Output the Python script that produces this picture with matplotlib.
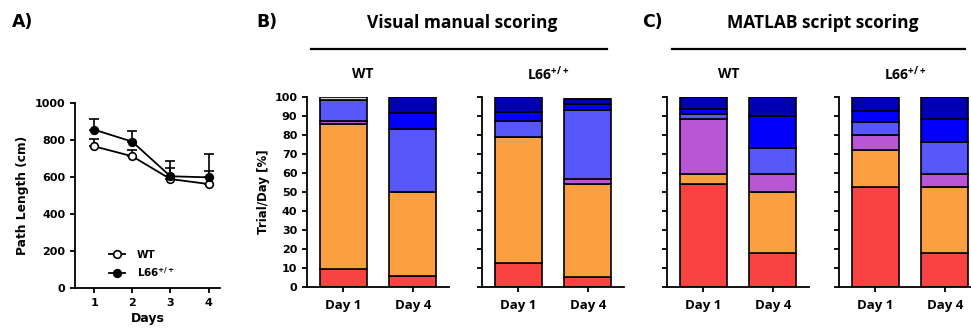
import matplotlib
matplotlib.use('Agg')
import matplotlib.pyplot as plt
from matplotlib.lines import Line2D
import numpy as np

W = 971
H = 331

# panel A: path length per day (mean, upper error)
days = [1, 2, 3, 4]
wt_mean = [766, 712, 589, 562]
wt_err = [41, 35, 60, 68]
l66_mean = [856, 791, 604, 598]
l66_err = [59, 59, 81, 128]

# panels B/C: stacked percentages, segments bottom->top
day_labels = ['Day 1', 'Day 4']
seg_colors = ['#F94343', '#FBA040', '#B956D6', '#5757FB', '#0000FB', '#0000B2', '#D4D4D4']
visual_wt = [[9.6, 76.4, 1.4, 11.0, 0.0, 0.0, 1.6],
             [5.6, 44.4, 0.0, 33.0, 8.6, 8.4, 0.0]]
visual_l66 = [[12.6, 66.5, 0.0, 8.3, 4.5, 8.1, 0.0],
              [5.3, 49.0, 2.7, 35.9, 3.4, 2.8, 0.0]]
matlab_wt = [[54.0, 5.4, 29.0, 2.8, 2.6, 6.2, 0.0],
             [18.0, 31.8, 9.6, 14.0, 16.5, 10.1, 0.0]]
matlab_l66 = [[52.6, 19.3, 8.1, 6.8, 5.8, 7.4, 0.0],
              [18.0, 34.6, 6.7, 16.9, 12.3, 11.5, 0.0]]

plt.rcParams['mathtext.default'] = 'regular'
SANS = 'DejaVu Sans'
CAL = 'Open Sans'

def px(l, t, r, b):
    return [l / W, 1 - b / H, (r - l) / W, (b - t) / H]

def style_axes(ax):
    for s in ['top', 'right']:
        ax.spines[s].set_visible(False)
    for s in ['left', 'bottom']:
        ax.spines[s].set_linewidth(1.3)
    ax.tick_params(width=1.3, length=3.5, direction='out')

fig = plt.figure(figsize=(W / 100, H / 100), dpi=100)

# ---- panel A
axA = fig.add_axes(px(75, 103, 220, 288))
style_axes(axA)
axA.errorbar(days, wt_mean, yerr=[np.zeros(4), wt_err], color='black', lw=1.3,
             marker='o', ms=5.5, mfc='white', mec='black', mew=1.2,
             capsize=3.5, capthick=1.2, elinewidth=1.2, zorder=3)
axA.errorbar(days, l66_mean, yerr=[np.zeros(4), l66_err], color='black', lw=1.3,
             marker='o', ms=5.5, mfc='black', mec='black', mew=1.2,
             capsize=3.5, capthick=1.2, elinewidth=1.2, zorder=4)
axA.set_xlim(0.5, 4.3)
axA.set_ylim(0, 1000)
axA.set_yticks([0, 200, 400, 600, 800, 1000])
axA.set_xticks(days)
for lab in axA.get_xticklabels() + axA.get_yticklabels():
    lab.set_fontfamily(SANS)
    lab.set_fontweight('bold')
    lab.set_fontsize(8)
axA.set_ylabel('Path Length (cm)', fontfamily=SANS, fontweight='bold', fontsize=8.8, labelpad=4)
axA.set_xlabel('Days', fontfamily=SANS, fontweight='bold', fontsize=9, labelpad=3)
handles = [Line2D([], [], color='black', lw=1.3, marker='o', ms=5.5, mfc='white', mec='black', mew=1.2),
           Line2D([], [], color='black', lw=1.3, marker='o', ms=5.5, mfc='black', mec='black', mew=1.2)]
axA.legend(handles, ['WT', 'L66$^{+/+}$'], loc='upper left', bbox_to_anchor=(0.234, 0.205),
           frameon=False, borderpad=0, borderaxespad=0,
           handlelength=1.5, handletextpad=1.2, labelspacing=0.45,
           prop={'family': SANS, 'weight': 'bold', 'size': 7.5})

# ---- panels B and C
def stacked(ax, data, show_labels):
    style_axes(ax)
    x = np.arange(len(day_labels))
    for i, col in enumerate(seg_colors):
        vals = [d[i] for d in data]
        bots = [sum(d[:i]) for d in data]
        ax.bar(x, vals, bottom=bots, width=0.67, color=col, edgecolor='black', linewidth=1.2)
    ax.set_xlim(-0.52, 1.52)
    ax.set_ylim(0, 100)
    ax.set_yticks(np.arange(0, 101, 10))
    ax.set_xticks(x)
    ax.set_xticklabels(day_labels, fontfamily=CAL, fontweight='bold', fontsize=9.5)
    ax.tick_params(axis='x', pad=5)
    if show_labels:
        for lab in ax.get_yticklabels():
            lab.set_fontfamily(SANS)
            lab.set_fontweight('bold')
            lab.set_fontsize(8)
        ax.set_ylabel('Trial/Day [%]', fontfamily=SANS, fontweight='bold', fontsize=8.5, labelpad=3)
    else:
        ax.set_yticklabels([])

axB1 = fig.add_axes(px(307, 97, 449, 287))
stacked(axB1, visual_wt, True)
axB2 = fig.add_axes(px(482, 97, 624, 287))
stacked(axB2, visual_l66, False)
axC1 = fig.add_axes(px(667, 97, 809, 287))
stacked(axC1, matlab_wt, False)
axC2 = fig.add_axes(px(839, 97, 981, 287))
stacked(axC2, matlab_l66, False)

# ---- headings
def ftext(x, y, s, **kw):
    fig.text(x / W, 1 - y / H, s, va='center', **kw)

ftext(12, 22, 'A)', fontfamily=SANS, fontweight='bold', fontsize=12.5, ha='left')
ftext(256, 22, 'B)', fontfamily=SANS, fontweight='bold', fontsize=12.5, ha='left')
ftext(642, 22, 'C)', fontfamily=SANS, fontweight='bold', fontsize=12.5, ha='left')

ftext(462, 23, 'Visual manual scoring', fontfamily=CAL, fontweight='bold', fontsize=12.5, ha='center')
ftext(823, 23, 'MATLAB script scoring', fontfamily=CAL, fontweight='bold', fontsize=12.5, ha='center')
fig.add_artist(Line2D([311 / W, 607 / W], [1 - 49 / H, 1 - 49 / H], color='black', lw=1.6))
fig.add_artist(Line2D([672 / W, 965 / W], [1 - 49 / H, 1 - 49 / H], color='black', lw=1.6))

ftext(362.5, 74, 'WT', fontfamily=CAL, fontweight='bold', fontsize=10, ha='center')
ftext(527, 74, 'L66$^{+/+}$', fontfamily=CAL, fontweight='bold', fontsize=10, ha='left')
ftext(729, 74, 'WT', fontfamily=CAL, fontweight='bold', fontsize=10, ha='center')
ftext(884, 74, 'L66$^{+/+}$', fontfamily=CAL, fontweight='bold', fontsize=10, ha='left')

fig.savefig('out.png', dpi=100)
